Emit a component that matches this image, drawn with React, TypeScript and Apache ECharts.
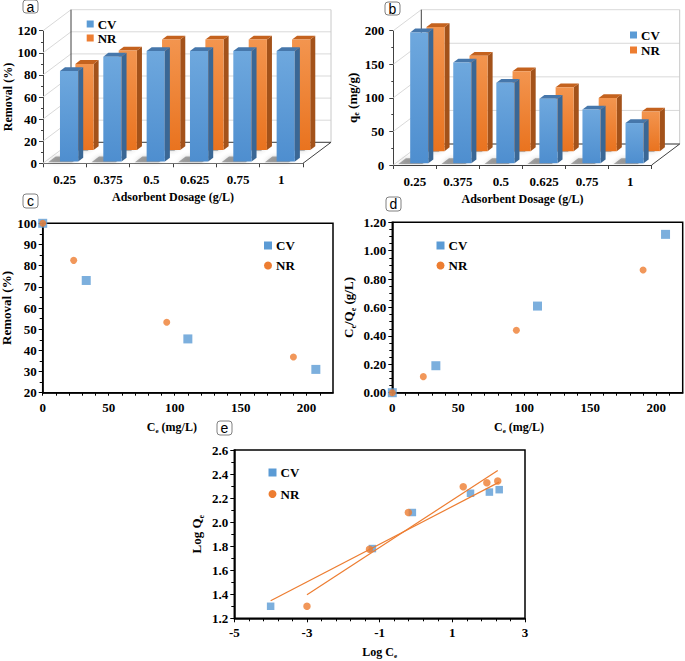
import React, { useEffect, useRef } from 'react';
import * as echarts from 'echarts';

// ---------------- data ----------------
const dosage = ['0.25', '0.375', '0.5', '0.625', '0.75', '1'];
const removalCV = [82, 95, 100, 100, 100, 100];
const removalNR = [78, 90, 100, 100, 100, 100];
const qeCV = [195, 150, 120, 96, 80, 60];
const qeNR = [185, 142, 119, 95, 79, 59];
const yTicksA = [0, 20, 40, 60, 80, 100, 120];
const yTicksB = [0, 50, 100, 150, 200];

const ceCV = [0, 33, 110, 207];
const remCV = [100, 73, 45.4, 31];
const ceNR = [0, 23.5, 94, 190];
const remNR = [100, 82.5, 53.3, 36.9];

const ceQeCV = [0, 0.19, 0.61, 1.115];
const ceQeNR = [0, 0.113, 0.44, 0.864];

const logCeCV = [-4.0, -1.2, -0.1, 1.5, 2.02, 2.29];
const logQeCV = [1.30, 1.78, 2.08, 2.24, 2.25, 2.27];
const logCeNR = [-3.0, -1.28, -0.21, 1.30, 1.95, 2.25];
const logQeNR = [1.30, 1.775, 2.08, 2.295, 2.328, 2.342];

// ---------------- style ----------------
const FONT = '"Liberation Serif", "Times New Roman", serif';
const SANS = '"Liberation Sans", Arial, sans-serif';
const BLUE = '#5B9BD5';
const ORANGE = '#ED7D31';
const DX = 28;
const DY = 21;

const zip = (a: number[], b: number[]) => a.map((v, i) => [v, b[i]]);

// least-squares trendline through the plotted points (as in the original's linear trendline)
function fit(xs: number[], ys: number[]) {
  const n = xs.length;
  const mx = xs.reduce((s, v) => s + v, 0) / n;
  const my = ys.reduce((s, v) => s + v, 0) / n;
  let sxy = 0, sxx = 0;
  for (let i = 0; i < n; i++) {
    sxy += (xs[i] - mx) * (ys[i] - my);
    sxx += (xs[i] - mx) * (xs[i] - mx);
  }
  const b = sxy / sxx;
  const a = my - b * mx;
  const x0 = Math.min(...xs), x1 = Math.max(...xs);
  return [[x0, a + b * x0], [x1, a + b * x1]];
}

const lin = (c1: string, c2: string) => ({
  type: 'linear', x: 0, y: 0, x2: 0, y2: 1,
  colorStops: [{ offset: 0, color: c1 }, { offset: 1, color: c2 }],
});

const PAL: any = {
  CV: { front: lin('#6EA8DE', '#4E8ECF'), side: '#3A6795', top: '#4677AB' },
  NR: { front: lin('#F3954F', '#E9731F'), side: '#A3521A', top: '#C4621E' },
};

function barRender(d0: number, pal: any) {
  return (params: any, api: any) => {
    const cat = api.value(0);
    const v = api.value(1);
    const p0 = api.coord([cat, 0]);
    const p1 = api.coord([cat, v]);
    const band = api.size([1, 0])[0];
    const L = p0[0] - band * 0.16;
    const R = L + band * 0.42;
    const yb = p0[1];
    const yt = p1[1];
    const d1 = d0 + 0.18;
    const P = (x: number, y: number, d: number) => [x + d * DX, y - d * DY];
    return {
      type: 'group',
      children: [
        {
          type: 'polygon',
          shape: { points: [P(L - 11, yb, d0 - 0.03), P(R - 5, yb, d0 - 0.03), P(R - 5, yb, d1 + 0.06), P(L - 11, yb, d1 + 0.06)] },
          style: { fill: 'rgba(70,70,70,0.45)', shadowBlur: 4, shadowColor: 'rgba(70,70,70,0.6)' },
        },
        { type: 'polygon', shape: { points: [P(R, yt, d0), P(R, yt, d1), P(R, yb, d1), P(R, yb, d0)] }, style: { fill: pal.side } },
        { type: 'polygon', shape: { points: [P(L, yt, d0), P(R, yt, d0), P(R, yt, d1), P(L, yt, d1)] }, style: { fill: pal.top } },
        { type: 'polygon', shape: { points: [P(L, yt, d0), P(R, yt, d0), P(R, yb, d0), P(L, yb, d0)] }, style: { fill: pal.front } },
      ],
    };
  };
}

function frameRender(ticks: number[]) {
  return (params: any, api: any) => {
    const cs = params.coordSys;
    const x0 = cs.x, x1 = cs.x + cs.width, yt = cs.y, yb = cs.y + cs.height;
    const ln = (a: number, b: number, c: number, d: number, col: string, w = 1) => ({
      type: 'line', shape: { x1: a, y1: b, x2: c, y2: d }, style: { stroke: col, lineWidth: w },
    });
    const ch: any[] = [];
    ch.push({
      type: 'polygon',
      shape: { points: [[x0, yb], [x1, yb], [x1 + DX, yb - DY], [x0 + DX, yb - DY]] },
      style: { fill: '#ffffff' },
    });
    ticks.forEach((v) => {
      const y = api.coord([0, v])[1];
      ch.push(ln(x0, y, x0 + DX, y - DY, '#d9d9d9'));
      ch.push(ln(x0 + DX, y - DY, x1 + DX, y - DY, '#d9d9d9'));
    });
    ch.push(ln(x1 + DX, yt - DY, x1 + DX, yb - DY, '#c8c8c8'));
    ch.push(ln(x0 + DX, yt - DY, x0 + DX, yb - DY, '#404040'));
    ch.push(ln(x0 + DX, yb - DY, x1 + DX, yb - DY, '#404040'));
    ch.push(ln(x1, yb, x1 + DX, yb - DY, '#404040'));
    return { type: 'group', children: ch };
  };
}

const lbl = (size: number) => ({ fontFamily: FONT, fontWeight: 'bold' as const, fontSize: size, color: '#000' });
const rich = (size: number) => ({
  n: { fontFamily: FONT, fontWeight: 'bold', fontSize: size, color: '#000' },
  s: { fontFamily: FONT, fontWeight: 'bold', fontSize: Math.round(size * 0.62), color: '#000', padding: [Math.round(size * 0.7), 0, 0, 0] },
});

function barXAxis(grid: number) {
  return {
    type: 'category', gridIndex: grid, data: dosage,
    axisLine: { show: true, lineStyle: { color: '#404040', width: 1 } },
    axisTick: { show: true, alignWithLabel: false, length: 4, lineStyle: { color: '#404040' } },
    axisLabel: { ...lbl(13), margin: 10 },
    splitLine: { show: false },
    name: 'Adsorbent Dosage (g/L)', nameLocation: 'middle', nameGap: 28,
    nameTextStyle: lbl(12),
  };
}

function boxAxisStyle() {
  return {
    axisLine: { show: true, onZero: false, lineStyle: { color: '#000', width: 1.5 } },
    axisTick: { show: true, length: 4, lineStyle: { color: '#000', width: 1 } },
    minorTick: { show: true, length: 3, lineStyle: { color: '#000', width: 1 } },
    splitLine: { show: false },
  };
}

const labelBox = (letter: string, x: number, y: number, h = 14) => ({
  type: 'group', x, y,
  children: [
    { type: 'rect', shape: { x: 0, y: 0, width: 15, height: h, r: 3 }, style: { fill: '#fff', stroke: '#808080', lineWidth: 1 } },
    { type: 'text', x: 7.5, y: h / 2, style: { text: letter, fill: '#000', font: `14px ${SANS}`, align: 'center', verticalAlign: 'middle' } },
  ],
});

const legendBase = (left: number, top: number, gap: number, size: number, icons: [string, string]) => ({
  orient: 'vertical', left, top, padding: 0, itemGap: gap, itemWidth: size, itemHeight: size,
  selectedMode: false,
  textStyle: { ...lbl(13), padding: [0, 0, 0, -1] },
  data: [{ name: 'CV', icon: icons[0] }, { name: 'NR', icon: icons[1] }],
});

export default function App() {
  const ref = useRef<HTMLDivElement>(null);
  useEffect(() => {
    if (!ref.current) return;
    const chart = echarts.init(ref.current, undefined, { renderer: 'svg' });
    const trendCV = fit(logCeCV, logQeCV);
    const trendNR = fit(logCeNR, logQeNR);
    const scatterX = (grid: number, pad: number) => ({
      type: 'value', gridIndex: grid, min: 0, max: 220, interval: 10, ...boxAxisStyle(),
      minorTick: { show: false },
      axisTick: { show: true, length: 3, lineStyle: { color: '#000' } },
      axisLabel: { ...lbl(13), margin: 8, showMaxLabel: false, formatter: (v: number) => (v % 50 === 0 ? String(v) : '') },
      name: '{n|C}{s|e}{n| (mg/L)}', nameLocation: 'middle', nameGap: 27,
      nameTextStyle: { rich: rich(12), padding: [0, pad, 0, 0] },
    });
    const option: any = {
      animation: false,
      backgroundColor: '#fff',
      textStyle: { fontFamily: FONT },
      grid: [
        { left: 43, top: 30.7, width: 260, height: 132.6, outerBoundsMode: 'none' },
        { left: 393.3, top: 30.7, width: 258.4, height: 134.3, outerBoundsMode: 'none' },
        { left: 42.7, top: 223.3, width: 290.3, height: 169.4, show: true, borderColor: '#000', borderWidth: 1.5, outerBoundsMode: 'none' },
        { left: 392.3, top: 222.3, width: 290.4, height: 170.4, show: true, borderColor: '#000', borderWidth: 1.5, outerBoundsMode: 'none' },
        { left: 234.3, top: 450, width: 290.7, height: 168.3, show: true, borderColor: '#000', borderWidth: 1.5, outerBoundsMode: 'none' },
      ],
      xAxis: [
        barXAxis(0),
        barXAxis(1),
        scatterX(2, 32),
        scatterX(3, 37),
        {
          type: 'value', gridIndex: 4, min: -5, max: 3, interval: 2, ...boxAxisStyle(),
          minorTick: { show: true, splitNumber: 5, length: 3, lineStyle: { color: '#000' } },
          axisLabel: { ...lbl(13), margin: 8 },
          name: '{n|Log C}{s|e}', nameLocation: 'middle', nameGap: 26,
          nameTextStyle: { rich: rich(12) },
        },
      ],
      yAxis: [
        {
          type: 'value', gridIndex: 0, min: 0, max: 120, interval: 20,
          axisLine: { show: true, lineStyle: { color: '#404040' } },
          axisTick: { show: true, length: 4, lineStyle: { color: '#404040' } },
          minorTick: { show: true, splitNumber: 2, length: 2, lineStyle: { color: '#404040' } },
          splitLine: { show: false },
          axisLabel: { ...lbl(13), margin: 6 },
          name: 'Removal (%)', nameLocation: 'middle', nameGap: 29, nameRotate: 90,
          nameTextStyle: lbl(12),
        },
        {
          type: 'value', gridIndex: 1, min: 0, max: 200, interval: 50,
          axisLine: { show: true, lineStyle: { color: '#404040' } },
          axisTick: { show: true, length: 4, lineStyle: { color: '#404040' } },
          minorTick: { show: true, splitNumber: 2, length: 2, lineStyle: { color: '#404040' } },
          splitLine: { show: false },
          axisLabel: { ...lbl(13), margin: 9 },
          name: '{n|q}{s|e}{n| (mg/g)}', nameLocation: 'middle', nameGap: 31, nameRotate: 90,
          nameTextStyle: { rich: rich(13) },
        },
        {
          type: 'value', gridIndex: 2, min: 20, max: 100, interval: 10, ...boxAxisStyle(),
          minorTick: { show: true, splitNumber: 2, length: 3, lineStyle: { color: '#000' } },
          axisLabel: { ...lbl(13), margin: 6 },
          name: 'Removal (%)', nameLocation: 'middle', nameGap: 28, nameRotate: 90,
          nameTextStyle: lbl(13),
        },
        {
          type: 'value', gridIndex: 3, min: 0, max: 1.2, interval: 0.2, ...boxAxisStyle(),
          minorTick: { show: true, splitNumber: 4, length: 3, lineStyle: { color: '#000' } },
          axisLabel: { ...lbl(13), margin: 6, formatter: (v: number) => v.toFixed(2) },
          name: '{n|C}{s|e}{n|/Q}{s|e}{n| (g/L)}', nameLocation: 'middle', nameGap: 35, nameRotate: 90,
          nameTextStyle: { rich: rich(13) },
        },
        {
          type: 'value', gridIndex: 4, min: 1.2, max: 2.6, interval: 0.2, ...boxAxisStyle(),
          minorTick: { show: true, splitNumber: 2, length: 3, lineStyle: { color: '#000' } },
          axisLabel: { ...lbl(13), margin: 6, formatter: (v: number) => v.toFixed(1) },
          name: '{n|Log Q}{s|e}', nameLocation: 'middle', nameGap: 29, nameRotate: 90,
          nameTextStyle: { rich: rich(13) },
        },
      ],
      legend: [
        legendBase(86.7, 17.5, 1, 7, ['rect', 'rect']),
        legendBase(630, 28.5, 2, 7, ['rect', 'rect']),
        legendBase(264, 239, 7, 8, ['rect', 'circle']),
        legendBase(436.5, 239, 7, 8, ['rect', 'circle']),
        legendBase(268.5, 466, 8.5, 8, ['rect', 'circle']),
      ],
      graphic: [
        labelBox('a', 23, 0, 13),
        labelBox('b', 385, 2, 13),
        labelBox('c', 23, 194),
        labelBox('d', 386, 197),
        labelBox('e', 217, 421),
      ],
      series: [
        // panel a
        { type: 'custom', name: 'frameA', xAxisIndex: 0, yAxisIndex: 0, data: [[0, 0]], renderItem: frameRender(yTicksA), z: 1, silent: true },
        { type: 'custom', name: 'NR', xAxisIndex: 0, yAxisIndex: 0, itemStyle: { color: ORANGE }, data: removalNR.map((v, i) => [i, v]), encode: { x: 0, y: 1 }, renderItem: barRender(0.63, PAL.NR), z: 2 },
        { type: 'custom', name: 'CV', xAxisIndex: 0, yAxisIndex: 0, itemStyle: { color: BLUE }, data: removalCV.map((v, i) => [i, v]), encode: { x: 0, y: 1 }, renderItem: barRender(0.08, PAL.CV), z: 3 },
        // panel b
        { type: 'custom', name: 'frameB', xAxisIndex: 1, yAxisIndex: 1, data: [[0, 0]], renderItem: frameRender(yTicksB), z: 1, silent: true },
        { type: 'custom', name: 'NR', xAxisIndex: 1, yAxisIndex: 1, itemStyle: { color: ORANGE }, data: qeNR.map((v, i) => [i, v]), encode: { x: 0, y: 1 }, renderItem: barRender(0.66, PAL.NR), z: 2 },
        { type: 'custom', name: 'CV', xAxisIndex: 1, yAxisIndex: 1, itemStyle: { color: BLUE }, data: qeCV.map((v, i) => [i, v]), encode: { x: 0, y: 1 }, renderItem: barRender(0.08, PAL.CV), z: 3 },
        // panel c
        { type: 'scatter', name: 'CV', xAxisIndex: 2, yAxisIndex: 2, symbol: 'rect', symbolSize: 9, itemStyle: { color: BLUE }, data: zip(ceCV, remCV) },
        { type: 'scatter', name: 'NR', xAxisIndex: 2, yAxisIndex: 2, symbol: 'circle', symbolSize: 7, itemStyle: { color: ORANGE }, data: zip(ceNR, remNR) },
        // panel d
        { type: 'scatter', name: 'CV', xAxisIndex: 3, yAxisIndex: 3, symbol: 'rect', symbolSize: 9, itemStyle: { color: BLUE }, data: zip(ceCV, ceQeCV) },
        { type: 'scatter', name: 'NR', xAxisIndex: 3, yAxisIndex: 3, symbol: 'circle', symbolSize: 7, itemStyle: { color: ORANGE }, data: zip(ceNR, ceQeNR) },
        // panel e
        { type: 'scatter', name: 'CV', xAxisIndex: 4, yAxisIndex: 4, symbol: 'rect', symbolSize: 7.5, itemStyle: { color: BLUE }, data: zip(logCeCV, logQeCV) },
        { type: 'scatter', name: 'NR', xAxisIndex: 4, yAxisIndex: 4, symbol: 'circle', symbolSize: 7.5, itemStyle: { color: ORANGE }, data: zip(logCeNR, logQeNR) },
        { type: 'line', name: 'CV trend', xAxisIndex: 4, yAxisIndex: 4, data: trendCV, showSymbol: false, symbol: 'none', lineStyle: { color: ORANGE, width: 1.2 }, silent: true },
        { type: 'line', name: 'NR trend', xAxisIndex: 4, yAxisIndex: 4, data: trendNR, showSymbol: false, symbol: 'none', lineStyle: { color: ORANGE, width: 1.2 }, silent: true },
      ],
    };
    chart.setOption(option);
    return () => chart.dispose();
  }, []);
  return (
    <div
      ref={ref}
      style={{ position: 'fixed', left: 0, top: 0, width: 685, height: 661, background: '#fff' }}
    />
  );
}
